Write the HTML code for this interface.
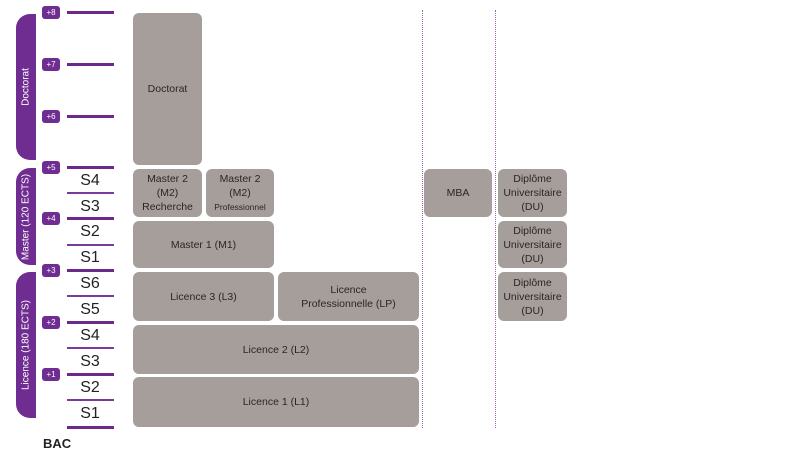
<!DOCTYPE html><html><head><style>
body{margin:0;width:801px;height:465px;background:#fff;position:relative;overflow:hidden;font-family:"Liberation Sans",sans-serif}
.b{position:absolute;background:#a59e9b;border-radius:6px;display:flex;align-items:center;justify-content:center;text-align:center;color:#2b2626;font-size:10.5px;line-height:14px;box-sizing:border-box}
.l{position:absolute;left:67px;width:47px;background:#6b2a8a}
.t{height:3px}.n{height:2px;background:#7a3a9a}
.p{position:absolute;left:42px;width:18px;height:13px;background:#6f2c91;color:#fff;font-size:8px;line-height:13px;text-align:center;border-radius:3px}
.s{position:absolute;left:70px;width:40px;text-align:center;font-size:16px;color:#222;line-height:18px}
.band{position:absolute;left:16px;width:20px;background:#6f2c91;border-radius:14px 0 0 14px;color:#fff}
.band span{position:absolute;left:50%;top:50%;transform:translate(-50%,-50%) rotate(-90deg);white-space:nowrap;font-size:10px}
.d{position:absolute;top:10px;height:418px;border-left:1px dotted #9a6ab0}
</style></head><body>
<div class="band" style="top:14px;height:146px"><span>Doctorat</span></div>
<div class="band" style="top:168px;height:97px"><span>Master (120 ECTS)</span></div>
<div class="band" style="top:272px;height:146px"><span>Licence (180 ECTS)</span></div>
<div class="p" style="top:6px">+8</div><div class="p" style="top:58px">+7</div><div class="p" style="top:110px">+6</div><div class="p" style="top:161px">+5</div><div class="p" style="top:212px">+4</div><div class="p" style="top:264px">+3</div><div class="p" style="top:316px">+2</div><div class="p" style="top:368px">+1</div>
<div class="l t" style="top:11px"></div><div class="l t" style="top:63px"></div><div class="l t" style="top:115px"></div><div class="l t" style="top:166px"></div><div class="l t" style="top:217px"></div><div class="l t" style="top:269px"></div><div class="l t" style="top:321px"></div><div class="l t" style="top:373px"></div><div class="l t" style="top:426px"></div>
<div class="l n" style="top:192px"></div><div class="l n" style="top:244px"></div><div class="l n" style="top:295px"></div><div class="l n" style="top:347px"></div><div class="l n" style="top:399px"></div>
<div class="s" style="top:172px">S4</div><div class="s" style="top:198px">S3</div><div class="s" style="top:223px">S2</div><div class="s" style="top:249px">S1</div><div class="s" style="top:275px">S6</div><div class="s" style="top:301px">S5</div><div class="s" style="top:327px">S4</div><div class="s" style="top:353px">S3</div><div class="s" style="top:379px">S2</div><div class="s" style="top:405px">S1</div>
<div style="position:absolute;left:43px;top:436px;font-weight:bold;font-size:13px;color:#222">BAC</div>
<div class="d" style="left:422px"></div><div class="d" style="left:495px"></div>
<div class="b" style="left:133px;top:13px;width:69px;height:152px"><div>Doctorat</div></div>
<div class="b" style="left:133px;top:169px;width:69px;height:48px"><div>Master 2<br>(M2)<br>Recherche</div></div>
<div class="b" style="left:206px;top:169px;width:68px;height:48px"><div>Master 2<br>(M2)<br><span style="font-size:8.5px">Professionnel</span></div></div>
<div class="b" style="left:133px;top:221px;width:141px;height:47px"><div>Master 1 (M1)</div></div>
<div class="b" style="left:133px;top:272px;width:141px;height:49px"><div>Licence 3 (L3)</div></div>
<div class="b" style="left:278px;top:272px;width:141px;height:49px"><div>Licence<br>Professionnelle (LP)</div></div>
<div class="b" style="left:133px;top:325px;width:286px;height:49px"><div>Licence 2 (L2)</div></div>
<div class="b" style="left:133px;top:377px;width:286px;height:50px"><div>Licence 1 (L1)</div></div>
<div class="b" style="left:424px;top:169px;width:68px;height:48px"><div>MBA</div></div>
<div class="b" style="left:498px;top:169px;width:69px;height:48px"><div>Diplôme<br>Universitaire<br>(DU)</div></div>
<div class="b" style="left:498px;top:221px;width:69px;height:47px"><div>Diplôme<br>Universitaire<br>(DU)</div></div>
<div class="b" style="left:498px;top:272px;width:69px;height:49px"><div>Diplôme<br>Universitaire<br>(DU)</div></div>
</body></html>
